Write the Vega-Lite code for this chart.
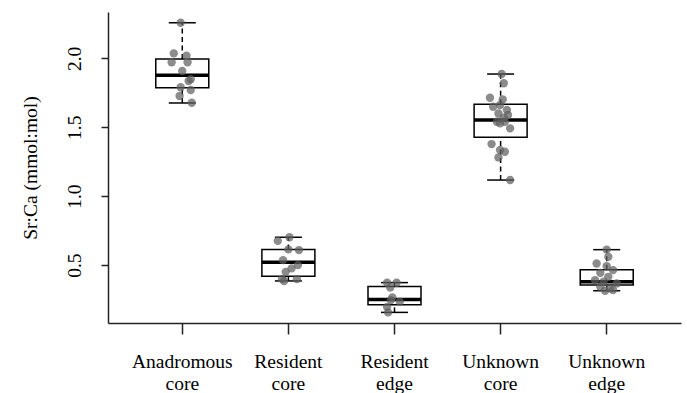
{
  "$schema": "https://vega.github.io/schema/vega-lite/v6.json",
  "width": 573,
  "height": 311,
  "autosize": {"type": "none"},
  "padding": {"left": 108, "top": 12, "right": 6, "bottom": 70},
  "background": "white",
  "config": {
    "view": {"stroke": null},
    "font": "Liberation Serif"
  },
  "datasets": {
    "stats": [
      {"group": "Anadromous core", "lo": 1.676, "q1": 1.787, "med": 1.877, "q3": 1.995, "hi": 2.258},
      {"group": "Resident core", "lo": 0.385, "q1": 0.42, "med": 0.52, "q3": 0.614, "hi": 0.702},
      {"group": "Resident edge", "lo": 0.157, "q1": 0.212, "med": 0.25, "q3": 0.344, "hi": 0.373},
      {"group": "Unknown core", "lo": 1.117, "q1": 1.427, "med": 1.552, "q3": 1.667, "hi": 1.886},
      {"group": "Unknown edge", "lo": 0.314, "q1": 0.355, "med": 0.38, "q3": 0.467, "hi": 0.612}
    ],
    "pts": [
      {"group": "Anadromous core", "jit": -0.015, "v": 2.258},
      {"group": "Anadromous core", "jit": -0.08, "v": 2.036},
      {"group": "Anadromous core", "jit": 0.04, "v": 2.019},
      {"group": "Anadromous core", "jit": -0.1, "v": 1.971},
      {"group": "Anadromous core", "jit": 0.05, "v": 1.971},
      {"group": "Anadromous core", "jit": 0.0, "v": 1.908},
      {"group": "Anadromous core", "jit": 0.08, "v": 1.848},
      {"group": "Anadromous core", "jit": 0.06, "v": 1.835},
      {"group": "Anadromous core", "jit": -0.015, "v": 1.79},
      {"group": "Anadromous core", "jit": 0.08, "v": 1.77},
      {"group": "Anadromous core", "jit": -0.025, "v": 1.727},
      {"group": "Anadromous core", "jit": 0.09, "v": 1.678},
      {"group": "Resident core", "jit": 0.01, "v": 0.702},
      {"group": "Resident core", "jit": -0.1, "v": 0.676},
      {"group": "Resident core", "jit": 0.0, "v": 0.614},
      {"group": "Resident core", "jit": 0.1, "v": 0.609},
      {"group": "Resident core", "jit": -0.05, "v": 0.536},
      {"group": "Resident core", "jit": 0.09, "v": 0.5},
      {"group": "Resident core", "jit": 0.03, "v": 0.476},
      {"group": "Resident core", "jit": -0.025, "v": 0.451},
      {"group": "Resident core", "jit": -0.06, "v": 0.398},
      {"group": "Resident core", "jit": -0.04, "v": 0.385},
      {"group": "Resident core", "jit": 0.08, "v": 0.398},
      {"group": "Resident edge", "jit": -0.07, "v": 0.372},
      {"group": "Resident edge", "jit": 0.02, "v": 0.372},
      {"group": "Resident edge", "jit": -0.04, "v": 0.338},
      {"group": "Resident edge", "jit": -0.02, "v": 0.266},
      {"group": "Resident edge", "jit": -0.035, "v": 0.246},
      {"group": "Resident edge", "jit": 0.05, "v": 0.234},
      {"group": "Resident edge", "jit": -0.07, "v": 0.197},
      {"group": "Resident edge", "jit": -0.06, "v": 0.157},
      {"group": "Unknown core", "jit": 0.01, "v": 1.886},
      {"group": "Unknown core", "jit": 0.03, "v": 1.819},
      {"group": "Unknown core", "jit": -0.1, "v": 1.714},
      {"group": "Unknown core", "jit": 0.02, "v": 1.702},
      {"group": "Unknown core", "jit": -0.07, "v": 1.649},
      {"group": "Unknown core", "jit": -0.005, "v": 1.661},
      {"group": "Unknown core", "jit": 0.06, "v": 1.625},
      {"group": "Unknown core", "jit": -0.02, "v": 1.6},
      {"group": "Unknown core", "jit": 0.07, "v": 1.589},
      {"group": "Unknown core", "jit": 0.03, "v": 1.57},
      {"group": "Unknown core", "jit": -0.035, "v": 1.54},
      {"group": "Unknown core", "jit": 0.04, "v": 1.54},
      {"group": "Unknown core", "jit": 0.09, "v": 1.492},
      {"group": "Unknown core", "jit": -0.005, "v": 1.528},
      {"group": "Unknown core", "jit": -0.085, "v": 1.378},
      {"group": "Unknown core", "jit": -0.005, "v": 1.335},
      {"group": "Unknown core", "jit": 0.04, "v": 1.322},
      {"group": "Unknown core", "jit": -0.02, "v": 1.281},
      {"group": "Unknown core", "jit": 0.09, "v": 1.117},
      {"group": "Unknown edge", "jit": 0.0, "v": 0.612},
      {"group": "Unknown edge", "jit": 0.015, "v": 0.56},
      {"group": "Unknown edge", "jit": -0.095, "v": 0.512},
      {"group": "Unknown edge", "jit": 0.0, "v": 0.493},
      {"group": "Unknown edge", "jit": 0.06, "v": 0.464},
      {"group": "Unknown edge", "jit": -0.06, "v": 0.444},
      {"group": "Unknown edge", "jit": 0.015, "v": 0.415},
      {"group": "Unknown edge", "jit": -0.11, "v": 0.391},
      {"group": "Unknown edge", "jit": -0.03, "v": 0.379},
      {"group": "Unknown edge", "jit": 0.095, "v": 0.367},
      {"group": "Unknown edge", "jit": -0.06, "v": 0.343},
      {"group": "Unknown edge", "jit": 0.03, "v": 0.331},
      {"group": "Unknown edge", "jit": -0.015, "v": 0.314},
      {"group": "Unknown edge", "jit": 0.06, "v": 0.319}
    ]
  },
  "encoding": {
    "x": {
      "field": "group",
      "type": "nominal",
      "sort": ["Anadromous core", "Resident core", "Resident edge", "Unknown core", "Unknown edge"],
      "scale": {"type": "band", "paddingInner": 0.5, "paddingOuter": 0.45},
      "axis": {
        "title": null,
        "labelAngle": 0,
        "labelExpr": "split(datum.label, ' ')",
        "labelFontSize": 19.5,
        "labelColor": "black",
        "labelLineHeight": 22,
        "labelBaseline": "top",
        "labelPadding": 18,
        "tickSize": 11,
        "tickColor": "#222",
        "tickWidth": 1.5,
        "domainColor": "#222",
        "domainWidth": 1.5,
        "grid": false,
        "labelFont": "Liberation Serif"
      }
    }
  },
  "layer": [
    {
      "data": {"name": "stats"},
      "mark": {"type": "rule", "color": "black", "strokeWidth": 1.5, "strokeDash": [5, 3.5]},
      "encoding": {
        "y": {"field": "q3", "type": "quantitative", "scale": {"domain": [0.08, 2.336], "nice": false, "zero": false},
          "axis": {"title": "Sr:Ca (mmol:mol)", "values": [0.5, 1, 1.5, 2], "format": ".1f", "labelAngle": 270, "labelAlign": "center", "labelBaseline": "alphabetic", "labelPadding": 21, "labelFontSize": 19.5, "labelColor": "black", "tickSize": 7, "tickColor": "#222", "tickWidth": 1.5, "domainColor": "#222", "domainWidth": 1.5, "grid": false, "titleAngle": 270, "titleX": -72, "titleY": 155.5, "titleAlign": "center", "titleBaseline": "alphabetic", "titleFontSize": 19.5, "titleFontWeight": "normal", "titleColor": "black", "titleFont": "Liberation Serif", "labelFont": "Liberation Serif"}},
        "y2": {"field": "hi"}
      }
    },
    {
      "data": {"name": "stats"},
      "mark": {"type": "rule", "color": "black", "strokeWidth": 1.5, "strokeDash": [5, 3.5]},
      "encoding": {
        "y": {"field": "lo", "type": "quantitative", "scale": {"domain": [0.08, 2.336], "nice": false, "zero": false},
          "axis": {"title": "Sr:Ca (mmol:mol)", "values": [0.5, 1, 1.5, 2], "format": ".1f", "labelAngle": 270, "labelAlign": "center", "labelBaseline": "alphabetic", "labelPadding": 21, "labelFontSize": 19.5, "labelColor": "black", "tickSize": 7, "tickColor": "#222", "tickWidth": 1.5, "domainColor": "#222", "domainWidth": 1.5, "grid": false, "titleAngle": 270, "titleX": -72, "titleY": 155.5, "titleAlign": "center", "titleBaseline": "alphabetic", "titleFontSize": 19.5, "titleFontWeight": "normal", "titleColor": "black", "titleFont": "Liberation Serif", "labelFont": "Liberation Serif"}},
        "y2": {"field": "q1"}
      }
    },
    {
      "data": {"name": "stats"},
      "mark": {"type": "tick", "color": "black", "size": 27, "thickness": 1.5, "opacity": 1},
      "encoding": {
        "y": {"field": "hi", "type": "quantitative", "scale": {"domain": [0.08, 2.336], "nice": false, "zero": false},
          "axis": {"title": "Sr:Ca (mmol:mol)", "values": [0.5, 1, 1.5, 2], "format": ".1f", "labelAngle": 270, "labelAlign": "center", "labelBaseline": "alphabetic", "labelPadding": 21, "labelFontSize": 19.5, "labelColor": "black", "tickSize": 7, "tickColor": "#222", "tickWidth": 1.5, "domainColor": "#222", "domainWidth": 1.5, "grid": false, "titleAngle": 270, "titleX": -72, "titleY": 155.5, "titleAlign": "center", "titleBaseline": "alphabetic", "titleFontSize": 19.5, "titleFontWeight": "normal", "titleColor": "black", "titleFont": "Liberation Serif", "labelFont": "Liberation Serif"}}
      }
    },
    {
      "data": {"name": "stats"},
      "mark": {"type": "tick", "color": "black", "size": 27, "thickness": 1.5, "opacity": 1},
      "encoding": {
        "y": {"field": "lo", "type": "quantitative", "scale": {"domain": [0.08, 2.336], "nice": false, "zero": false},
          "axis": {"title": "Sr:Ca (mmol:mol)", "values": [0.5, 1, 1.5, 2], "format": ".1f", "labelAngle": 270, "labelAlign": "center", "labelBaseline": "alphabetic", "labelPadding": 21, "labelFontSize": 19.5, "labelColor": "black", "tickSize": 7, "tickColor": "#222", "tickWidth": 1.5, "domainColor": "#222", "domainWidth": 1.5, "grid": false, "titleAngle": 270, "titleX": -72, "titleY": 155.5, "titleAlign": "center", "titleBaseline": "alphabetic", "titleFontSize": 19.5, "titleFontWeight": "normal", "titleColor": "black", "titleFont": "Liberation Serif", "labelFont": "Liberation Serif"}}
      }
    },
    {
      "data": {"name": "stats"},
      "mark": {"type": "bar", "fill": "white", "stroke": "black", "strokeWidth": 1.5, "width": 53},
      "encoding": {
        "y": {"field": "q1", "type": "quantitative", "scale": {"domain": [0.08, 2.336], "nice": false, "zero": false},
          "axis": {"title": "Sr:Ca (mmol:mol)", "values": [0.5, 1, 1.5, 2], "format": ".1f", "labelAngle": 270, "labelAlign": "center", "labelBaseline": "alphabetic", "labelPadding": 21, "labelFontSize": 19.5, "labelColor": "black", "tickSize": 7, "tickColor": "#222", "tickWidth": 1.5, "domainColor": "#222", "domainWidth": 1.5, "grid": false, "titleAngle": 270, "titleX": -72, "titleY": 155.5, "titleAlign": "center", "titleBaseline": "alphabetic", "titleFontSize": 19.5, "titleFontWeight": "normal", "titleColor": "black", "titleFont": "Liberation Serif", "labelFont": "Liberation Serif"}},
        "y2": {"field": "q3"}
      }
    },
    {
      "data": {"name": "stats"},
      "mark": {"type": "tick", "color": "black", "size": 53, "thickness": 3.5, "opacity": 1},
      "encoding": {
        "y": {"field": "med", "type": "quantitative", "scale": {"domain": [0.08, 2.336], "nice": false, "zero": false},
          "axis": {"title": "Sr:Ca (mmol:mol)", "values": [0.5, 1, 1.5, 2], "format": ".1f", "labelAngle": 270, "labelAlign": "center", "labelBaseline": "alphabetic", "labelPadding": 21, "labelFontSize": 19.5, "labelColor": "black", "tickSize": 7, "tickColor": "#222", "tickWidth": 1.5, "domainColor": "#222", "domainWidth": 1.5, "grid": false, "titleAngle": 270, "titleX": -72, "titleY": 155.5, "titleAlign": "center", "titleBaseline": "alphabetic", "titleFontSize": 19.5, "titleFontWeight": "normal", "titleColor": "black", "titleFont": "Liberation Serif", "labelFont": "Liberation Serif"}}
      }
    },
    {
      "data": {"name": "pts"},
      "mark": {"type": "circle", "color": "#606060", "opacity": 0.72, "size": 70},
      "encoding": {
        "xOffset": {"field": "jit", "type": "quantitative", "scale": {"domain": [-0.5, 0.5], "range": [-26.55, 79.55]}},
        "y": {"field": "v", "type": "quantitative", "scale": {"domain": [0.08, 2.336], "nice": false, "zero": false},
          "axis": {"title": "Sr:Ca (mmol:mol)", "values": [0.5, 1, 1.5, 2], "format": ".1f", "labelAngle": 270, "labelAlign": "center", "labelBaseline": "alphabetic", "labelPadding": 21, "labelFontSize": 19.5, "labelColor": "black", "tickSize": 7, "tickColor": "#222", "tickWidth": 1.5, "domainColor": "#222", "domainWidth": 1.5, "grid": false, "titleAngle": 270, "titleX": -72, "titleY": 155.5, "titleAlign": "center", "titleBaseline": "alphabetic", "titleFontSize": 19.5, "titleFontWeight": "normal", "titleColor": "black", "titleFont": "Liberation Serif", "labelFont": "Liberation Serif"}}
      }
    }
  ]
}
